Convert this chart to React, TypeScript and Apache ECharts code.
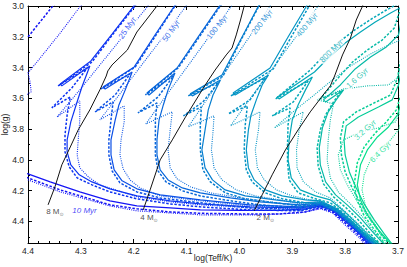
import React, { useEffect, useRef } from "react";
import * as echarts from "echarts";

// ---------- data: [log(Teff/K), log(g)] ----------
const ageNames = ["10 Myr", "25 Myr", "50 Myr", "100 Myr", "200 Myr", "400 Myr", "800 Myr", "1.6 Gyr", "3.2 Gyr", "6.4 Gyr"];
const ageColors = ["#1414f5", "#0d33f2", "#0a4fe6", "#0866da", "#067ecf", "#0595c5", "#04a8b8", "#05b9a6", "#05cc98", "#06de8c"];

const iso10Solid = [[4.453,4.000],[4.425,4.065],[4.400,4.091],[4.358,4.143],[4.302,4.208],[4.245,4.266],[4.194,4.299],[4.131,4.312],[4.074,4.325],[3.998,4.328],[3.923,4.328],[3.875,4.318],[3.847,4.299],[3.824,4.328],[3.798,4.403],[3.771,4.487],[3.754,4.558]];
const iso10Dashed = [[4.343,2.961],[4.353,3.000],[4.400,3.201],[4.434,3.286],[4.462,3.481],[4.462,3.935],[4.453,4.013],[4.425,4.091],[4.400,4.117],[4.339,4.195],[4.245,4.292],[4.194,4.318],[4.131,4.338],[4.074,4.347],[3.998,4.351],[3.923,4.351],[3.875,4.338],[3.847,4.312],[3.824,4.338],[3.798,4.416],[3.771,4.500],[3.758,4.558]];
const iso10Dotted = [[4.290,2.961],[4.302,3.006],[4.339,3.175],[4.377,3.338],[4.400,3.435],[4.396,3.494],[4.394,3.558],[4.404,3.578],[4.434,3.610],[4.462,3.805],[4.462,4.032],[4.425,4.104],[4.400,4.130],[4.339,4.208],[4.245,4.299],[4.194,4.331],[4.074,4.357],[3.961,4.357],[3.885,4.344],[3.847,4.318],[3.824,4.344],[3.798,4.429],[3.771,4.513],[3.762,4.558]];

const iso25Solid = [[4.192,2.961],[4.201,3.006],[4.241,3.182],[4.281,3.357],[4.339,3.506],[4.336,3.519],[4.283,3.390],[4.298,3.526],[4.309,3.643],[4.319,3.753],[4.326,3.870],[4.326,3.948],[4.319,4.032],[4.303,4.097],[4.279,4.143],[4.245,4.188],[4.194,4.234],[4.131,4.266],[4.074,4.286],[3.980,4.305],[3.885,4.312],[3.847,4.292],[3.822,4.318],[3.796,4.396],[3.771,4.474],[3.750,4.558]];
const iso25Dashed = [[4.190,2.961],[4.199,3.006],[4.239,3.182],[4.279,3.364],[4.343,3.519],[4.288,3.403],[4.317,3.532],[4.355,3.662],[4.320,3.591],[4.326,3.708],[4.330,3.838],[4.330,3.948],[4.322,4.045],[4.307,4.117],[4.279,4.162],[4.245,4.208],[4.194,4.253],[4.131,4.286],[4.074,4.305],[3.980,4.325],[3.885,4.331],[3.847,4.305],[3.822,4.331],[3.796,4.409],[3.771,4.487],[3.754,4.558]];
const iso25Dotted = [[4.165,2.961],[4.173,3.000],[4.218,3.188],[4.264,3.383],[4.302,3.545],[4.345,3.721],[4.302,3.617],[4.302,3.740],[4.305,3.870],[4.307,3.968],[4.302,4.052],[4.286,4.110],[4.264,4.162],[4.194,4.240],[4.131,4.273],[4.074,4.292],[3.980,4.312],[3.885,4.318],[3.847,4.299],[3.822,4.325],[3.796,4.403],[3.771,4.481],[3.752,4.558]];

const iso50Solid = [[4.116,2.961],[4.123,3.000],[4.161,3.195],[4.199,3.396],[4.258,3.526],[4.254,3.539],[4.203,3.429],[4.216,3.545],[4.228,3.643],[4.235,3.740],[4.243,3.870],[4.243,3.968],[4.237,4.065],[4.222,4.136],[4.194,4.188],[4.150,4.227],[4.074,4.260],[3.980,4.292],[3.885,4.305],[3.847,4.286],[3.820,4.318],[3.794,4.396],[3.769,4.474],[3.747,4.558]];
const iso50Dashed = [[4.114,2.961],[4.122,3.000],[4.159,3.195],[4.197,3.396],[4.262,3.539],[4.207,3.442],[4.235,3.578],[4.273,3.688],[4.239,3.623],[4.243,3.740],[4.247,3.870],[4.247,3.968],[4.241,4.071],[4.226,4.149],[4.194,4.208],[4.150,4.247],[4.074,4.279],[3.980,4.312],[3.885,4.325],[3.847,4.299],[3.820,4.331],[3.794,4.409],[3.769,4.487],[3.750,4.558]];
const iso50Dotted = [[4.093,2.961],[4.101,3.000],[4.140,3.182],[4.182,3.370],[4.222,3.552],[4.264,3.740],[4.218,3.649],[4.218,3.753],[4.224,3.870],[4.226,3.968],[4.220,4.058],[4.207,4.130],[4.188,4.182],[4.150,4.234],[4.074,4.266],[3.980,4.299],[3.885,4.312],[3.847,4.292],[3.820,4.325],[3.794,4.403],[3.769,4.481],[3.749,4.558]];

const iso100Solid = [[4.031,2.961],[4.038,3.000],[4.078,3.201],[4.118,3.403],[4.175,3.565],[4.171,3.578],[4.122,3.435],[4.135,3.545],[4.144,3.643],[4.152,3.740],[4.156,3.870],[4.156,3.968],[4.150,4.065],[4.135,4.130],[4.108,4.182],[4.074,4.214],[4.017,4.247],[3.961,4.273],[3.885,4.292],[3.847,4.279],[3.818,4.318],[3.792,4.396],[3.767,4.474],[3.743,4.558]];
const iso100Dashed = [[4.029,2.961],[4.036,3.000],[4.076,3.201],[4.116,3.403],[4.178,3.578],[4.125,3.455],[4.154,3.591],[4.192,3.695],[4.156,3.630],[4.159,3.740],[4.159,3.870],[4.159,3.968],[4.154,4.071],[4.139,4.143],[4.108,4.201],[4.074,4.234],[4.017,4.266],[3.961,4.292],[3.885,4.312],[3.847,4.292],[3.818,4.331],[3.792,4.409],[3.767,4.487],[3.747,4.558]];
const iso100Dotted = [[4.008,2.961],[4.015,3.000],[4.055,3.188],[4.095,3.377],[4.135,3.565],[4.177,3.766],[4.127,3.688],[4.131,3.805],[4.135,3.935],[4.131,4.052],[4.118,4.123],[4.093,4.175],[4.055,4.214],[3.998,4.247],[3.942,4.273],[3.885,4.299],[3.847,4.286],[3.818,4.325],[3.792,4.403],[3.767,4.481],[3.745,4.558]];

const iso200Solid = [[3.959,2.961],[3.964,3.000],[3.998,3.221],[4.033,3.448],[4.093,3.571],[4.089,3.584],[4.036,3.481],[4.050,3.578],[4.059,3.675],[4.065,3.805],[4.071,3.935],[4.065,4.052],[4.051,4.130],[4.027,4.195],[3.989,4.234],[3.932,4.260],[3.885,4.279],[3.847,4.273],[3.817,4.318],[3.790,4.396],[3.766,4.474],[3.739,4.558]];
const iso200Dashed = [[3.957,2.961],[3.963,3.000],[3.997,3.221],[4.031,3.455],[4.097,3.584],[4.040,3.500],[4.069,3.623],[4.106,3.714],[4.072,3.656],[4.074,3.773],[4.074,3.935],[4.069,4.065],[4.055,4.143],[4.027,4.214],[3.989,4.253],[3.932,4.279],[3.885,4.299],[3.847,4.286],[3.817,4.331],[3.790,4.409],[3.766,4.487],[3.743,4.558]];
const iso200Dotted = [[3.934,2.961],[3.942,3.000],[3.980,3.195],[4.019,3.390],[4.057,3.584],[4.097,3.786],[4.048,3.714],[4.050,3.818],[4.053,3.935],[4.048,4.052],[4.033,4.130],[4.006,4.195],[3.970,4.234],[3.923,4.260],[3.885,4.286],[3.847,4.279],[3.817,4.325],[3.790,4.403],[3.766,4.481],[3.741,4.558]];

const iso400Solid = [[3.868,2.961],[3.873,3.000],[3.908,3.201],[3.942,3.403],[4.012,3.565],[4.008,3.578],[3.945,3.448],[3.957,3.513],[3.968,3.610],[3.978,3.708],[3.983,3.805],[3.987,3.935],[3.983,4.052],[3.972,4.130],[3.951,4.195],[3.919,4.234],[3.875,4.260],[3.847,4.266],[3.815,4.318],[3.788,4.396],[3.764,4.474],[3.735,4.558]];
const iso400Dashed = [[3.862,2.961],[3.868,3.000],[3.902,3.201],[3.936,3.409],[4.016,3.584],[3.951,3.468],[3.980,3.610],[4.021,3.701],[3.985,3.649],[3.989,3.773],[3.991,3.935],[3.987,4.065],[3.976,4.143],[3.951,4.214],[3.919,4.253],[3.875,4.279],[3.847,4.279],[3.815,4.331],[3.788,4.409],[3.764,4.487],[3.739,4.558]];
const iso400Dotted = [[3.843,2.961],[3.851,3.000],[3.892,3.195],[3.934,3.390],[3.976,3.584],[4.017,3.779],[3.961,3.688],[3.964,3.805],[3.970,3.935],[3.966,4.052],[3.953,4.130],[3.930,4.195],[3.900,4.234],[3.866,4.260],[3.843,4.273],[3.813,4.325],[3.786,4.403],[3.762,4.481],[3.737,4.558]];

const iso800Solid = [[3.686,2.993],[3.714,3.045],[3.743,3.104],[3.771,3.169],[3.800,3.240],[3.828,3.325],[3.858,3.429],[3.928,3.591],[3.925,3.604],[3.862,3.461],[3.875,3.545],[3.889,3.643],[3.900,3.740],[3.906,3.870],[3.908,4.000],[3.902,4.117],[3.885,4.195],[3.856,4.234],[3.828,4.260],[3.805,4.325],[3.781,4.403],[3.758,4.481],[3.731,4.558]];
const iso800Dashed = [[3.694,2.974],[3.722,3.026],[3.750,3.084],[3.779,3.149],[3.807,3.221],[3.836,3.305],[3.866,3.416],[3.932,3.604],[3.870,3.487],[3.898,3.623],[3.938,3.714],[3.904,3.662],[3.908,3.773],[3.909,3.903],[3.909,4.013],[3.906,4.130],[3.889,4.214],[3.856,4.253],[3.828,4.279],[3.805,4.338],[3.781,4.416],[3.758,4.494],[3.735,4.558]];
const iso800Dotted = [[3.686,3.208],[3.714,3.247],[3.752,3.312],[3.790,3.390],[3.822,3.474],[3.856,3.571],[3.894,3.675],[3.934,3.792],[3.879,3.688],[3.887,3.805],[3.892,3.935],[3.891,4.052],[3.879,4.143],[3.856,4.208],[3.828,4.247],[3.803,4.325],[3.779,4.403],[3.756,4.481],[3.733,4.558]];

const iso1600Solid = [[3.692,3.058],[3.699,3.188],[3.722,3.266],[3.752,3.331],[3.781,3.409],[3.809,3.513],[3.841,3.610],[3.837,3.623],[3.803,3.545],[3.817,3.610],[3.832,3.688],[3.843,3.792],[3.849,3.922],[3.847,4.032],[3.837,4.143],[3.818,4.227],[3.794,4.299],[3.771,4.377],[3.748,4.468],[3.724,4.558]];
const iso1600Dashed = [[3.695,3.013],[3.707,3.143],[3.730,3.221],[3.758,3.286],[3.786,3.364],[3.815,3.474],[3.847,3.604],[3.807,3.552],[3.822,3.623],[3.837,3.708],[3.847,3.805],[3.853,3.922],[3.851,4.039],[3.841,4.156],[3.822,4.240],[3.798,4.312],[3.775,4.390],[3.752,4.481],[3.730,4.558]];
const iso1600Dotted = [[3.692,3.364],[3.701,3.468],[3.718,3.513],[3.758,3.519],[3.803,3.539],[3.853,3.610],[3.822,3.636],[3.828,3.740],[3.832,3.870],[3.834,4.000],[3.828,4.117],[3.813,4.208],[3.790,4.286],[3.767,4.370],[3.745,4.468],[3.722,4.558]];

const iso3200Solid = [[3.690,3.351],[3.699,3.513],[3.711,3.610],[3.737,3.656],[3.775,3.721],[3.798,3.779],[3.802,3.870],[3.800,3.968],[3.792,4.078],[3.779,4.182],[3.764,4.286],[3.745,4.390],[3.726,4.481],[3.709,4.558]];
const iso3200Dashed = [[3.692,3.299],[3.701,3.468],[3.714,3.578],[3.741,3.623],[3.779,3.688],[3.803,3.753],[3.809,3.857],[3.807,3.968],[3.800,4.078],[3.786,4.188],[3.769,4.292],[3.750,4.396],[3.731,4.487],[3.714,4.558]];
const iso3200Dotted = [[3.692,3.662],[3.705,3.753],[3.737,3.792],[3.771,3.818],[3.803,3.870],[3.813,3.968],[3.809,4.065],[3.796,4.162],[3.779,4.260],[3.760,4.357],[3.739,4.455],[3.718,4.558]];

const iso6400Solid = [[3.690,3.578],[3.701,3.708],[3.718,3.786],[3.739,3.851],[3.758,3.935],[3.771,4.032],[3.777,4.162],[3.771,4.260],[3.758,4.357],[3.737,4.455],[3.714,4.545],[3.709,4.558]];
const iso6400Dashed = [[3.692,3.545],[3.703,3.675],[3.722,3.753],[3.743,3.825],[3.764,3.916],[3.777,4.019],[3.783,4.162],[3.777,4.266],[3.764,4.364],[3.743,4.461],[3.722,4.558]];
const iso6400Dotted = [[3.690,3.708],[3.699,3.805],[3.714,3.870],[3.733,3.922],[3.752,4.000],[3.764,4.097],[3.768,4.195],[3.762,4.292],[3.749,4.390],[3.731,4.487],[3.707,4.558]];

// evolutionary tracks
const track8 = [[4.362,4.292],[4.349,4.175],[4.336,4.032],[4.320,3.916],[4.305,3.805],[4.283,3.675],[4.264,3.545],[4.252,3.455],[4.249,3.422],[4.241,3.383],[4.212,3.286],[4.194,3.169],[4.169,3.058],[4.156,3.000],[4.148,2.961]];
const track4 = [[4.182,4.325],[4.169,4.195],[4.150,4.000],[4.127,3.870],[4.103,3.727],[4.074,3.565],[4.061,3.494],[4.046,3.416],[4.025,3.318],[4.014,3.273],[4.006,3.188],[3.998,3.091],[3.991,3.000],[3.987,2.961]];
const track2 = [[3.972,4.331],[3.957,4.227],[3.938,4.097],[3.913,3.935],[3.889,3.805],[3.866,3.688],[3.843,3.584],[3.828,3.519],[3.820,3.455],[3.805,3.318],[3.790,3.208],[3.779,3.091],[3.767,3.000],[3.764,2.961]];

// label anchors [logTeff, logg, rotation]
const ageLabelPos = [[4.293, 4.330, 0], [4.212, 3.143, 55], [4.129, 3.162, 55], [4.042, 3.136, 52], [3.957, 3.104, 52], [3.872, 3.123, 50], [3.826, 3.292, 45], [3.777, 3.468, 42], [3.762, 3.805, 42], [3.733, 3.948, 45]];
const massLabels = ["8", "4", "2"];
const massLabelPos = [[4.349, 4.338], [4.171, 4.372], [3.951, 4.372]];

const xTicks = { min: 3.7, max: 4.4, step: 0.1 };
const yTicks = { min: 3.0, max: 4.54, step: 0.2 };

const FONT = "Liberation Sans, Arial, Helvetica, sans-serif";

export default function App() {
  const ref = useRef<HTMLDivElement>(null);
  useEffect(() => {
    if (!ref.current) return;
    const chart = echarts.init(ref.current, undefined, { renderer: "svg" });
    const isoSets = [
      [iso10Solid, iso10Dashed, iso10Dotted],
      [iso25Solid, iso25Dashed, iso25Dotted],
      [iso50Solid, iso50Dashed, iso50Dotted],
      [iso100Solid, iso100Dashed, iso100Dotted],
      [iso200Solid, iso200Dashed, iso200Dotted],
      [iso400Solid, iso400Dashed, iso400Dotted],
      [iso800Solid, iso800Dashed, iso800Dotted],
      [iso1600Solid, iso1600Dashed, iso1600Dotted],
      [iso3200Solid, iso3200Dashed, iso3200Dotted],
      [iso6400Solid, iso6400Dashed, iso6400Dotted],
    ];
    const styles: any[] = [
      { type: "solid", width: 1.2 },
      { type: [2.5, 1.6], width: 1.5 },
      { type: [1, 1.2], width: 1.1 },
    ];
    const series: any[] = [];
    isoSets.forEach((set, i) => {
      set.forEach((d, k) => {
        series.push({
          type: "line",
          name: ageNames[i] + "-" + k,
          data: d,
          showSymbol: false,
          symbol: "none",
          clip: true,
          silent: true,
          z: 2,
          lineStyle: { color: ageColors[i], width: styles[k].width, type: styles[k].type, cap: "butt" },
        });
      });
    });
    [track8, track4, track2].forEach((d, i) => {
      series.push({
        type: "line",
        name: "track" + i,
        data: d,
        showSymbol: false,
        symbol: "none",
        clip: true,
        z: 3,
        lineStyle: { color: "#111", width: 1 },
      });
    });
    series.push({
      type: "scatter",
      name: "ageLabels",
      z: 5,
      symbolSize: 1,
      itemStyle: { color: "rgba(0,0,0,0)" },
      data: ageNames.map((a, i) => ({
        value: [ageLabelPos[i][0], ageLabelPos[i][1]],
        label: {
          show: true,
          position: "inside",
          formatter: a,
          rotate: ageLabelPos[i][2],
          color: ageColors[i],
          fontSize: 8,
          fontStyle: i === 0 ? "italic" : "normal",
          fontFamily: FONT,
          backgroundColor: i === 0 ? "transparent" : "#fff",
          padding: [0, 1],
        },
      })),
    });
    series.push({
      type: "scatter",
      name: "massLabels",
      z: 5,
      symbolSize: 1,
      itemStyle: { color: "rgba(0,0,0,0)" },
      data: massLabels.map((m, i) => ({
        value: massLabelPos[i],
        label: {
          show: true,
          position: "inside",
          formatter: m + " M{s|\u2299}",
          color: "#222",
          fontSize: 8,
          fontFamily: FONT,
          rich: { s: { fontSize: 5, color: "#555", padding: [5, 0, 0, 0], fontFamily: "DejaVu Sans" } },
        },
      })),
    });

    const axisCommon = {
      axisLine: { show: true, lineStyle: { color: "#000", width: 1 } },
      splitLine: { show: false },
    };
    const option: any = {
      animation: false,
      backgroundColor: "#fff",
      grid: { left: 28, right: 9, top: 6, bottom: 24, containLabel: false, outerBoundsMode: "none" },
      xAxis: [
        {
          type: "value", min: xTicks.min, max: xTicks.max, interval: xTicks.step, inverse: true, position: "bottom",
          name: "log(Teff/K)", nameLocation: "middle", nameGap: 10, nameMoveOverlap: false,
          nameTextStyle: { fontSize: 8.5, fontFamily: FONT, color: "#222" },
          axisLabel: { fontSize: 8.5, fontFamily: FONT, color: "#222", margin: 3, formatter: (v: number) => v.toFixed(1) },
          axisTick: { show: true, inside: true, length: 4, lineStyle: { color: "#000" } },
          minorTick: { show: true, splitNumber: 5, length: 2, lineStyle: { color: "#000" } },
          ...axisCommon,
        },
        {
          type: "value", min: xTicks.min, max: xTicks.max, interval: xTicks.step, inverse: true, position: "top",
          axisLabel: { show: false },
          axisTick: { show: true, inside: true, length: 4, lineStyle: { color: "#000" } },
          minorTick: { show: true, splitNumber: 5, length: 2, lineStyle: { color: "#000" } },
          ...axisCommon,
        },
      ],
      yAxis: [
        {
          type: "value", min: yTicks.min, max: yTicks.max, interval: yTicks.step, inverse: true, position: "left",
          name: "log(g)", nameLocation: "middle", nameGap: 19, nameRotate: 90, nameMoveOverlap: false,
          nameTextStyle: { fontSize: 8.5, fontFamily: FONT, color: "#222" },
          axisLabel: { fontSize: 8.5, fontFamily: FONT, color: "#222", margin: 4, showMaxLabel: false, formatter: (v: number) => v.toFixed(1) },
          axisTick: { show: true, inside: true, length: 4, lineStyle: { color: "#000" } },
          minorTick: { show: true, splitNumber: 2, length: 2, lineStyle: { color: "#000" } },
          ...axisCommon,
        },
        {
          type: "value", min: yTicks.min, max: yTicks.max, interval: yTicks.step, inverse: true, position: "right",
          axisLabel: { show: false },
          axisTick: { show: true, inside: true, length: 4, lineStyle: { color: "#000" } },
          minorTick: { show: true, splitNumber: 2, length: 2, lineStyle: { color: "#000" } },
          ...axisCommon,
        },
      ],
      series,
    };
    chart.setOption(option);
    return () => chart.dispose();
  }, []);
  return <div ref={ref} style={{ width: 407, height: 267, position: "absolute", left: 0, top: 0 }} />;
}
